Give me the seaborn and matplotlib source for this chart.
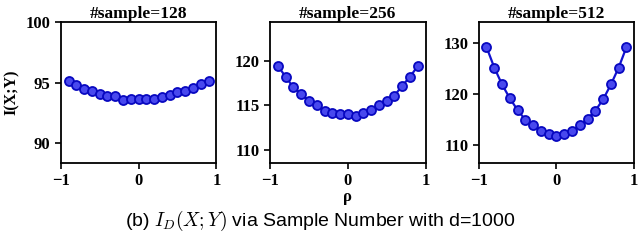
import numpy as np
import pandas as pd
import matplotlib.pyplot as plt
import seaborn as sns

# ==================== DONNÉES ====================
rho = [-0.9, -0.8, -0.7, -0.6, -0.5, -0.4, -0.3, -0.2, -0.1, 0.0,
       0.1, 0.2, 0.3, 0.4, 0.5, 0.6, 0.7, 0.8, 0.9]

mi_128 = [95.1, 94.8, 94.5, 94.3, 94.1, 93.9, 93.9, 93.6, 93.7, 93.7,
          93.7, 93.7, 93.8, 94.0, 94.2, 94.3, 94.6, 94.9, 95.1]
mi_256 = [119.4, 118.2, 117.0, 116.3, 115.5, 115.0, 114.4, 114.2, 114.1, 114.0,
          113.8, 114.2, 114.5, 115.0, 115.5, 116.1, 117.2, 118.2, 119.4]
mi_512 = [129.2, 125.2, 121.9, 119.2, 116.9, 115.0, 113.9, 112.9, 112.3, 111.9,
          112.3, 112.9, 113.9, 115.2, 116.8, 119.0, 121.9, 125.2, 129.2]

titles = ['#sample=128', '#sample=256', '#sample=512']
series = [mi_128, mi_256, mi_512]
ylims = [(88.4, 100), (108.6, 124.3), (106.6, 134.1)]
yticks = [[90, 95, 100], [110, 115, 120], [110, 120, 130]]

# ==================== FIGURE ====================
sns.set_style('ticks', {'axes.edgecolor': 'black', 'xtick.color': 'black',
                        'ytick.color': 'black', 'text.color': 'black',
                        'axes.labelcolor': 'black'})
plt.rcParams['font.family'] = ['Liberation Serif', 'DejaVu Serif']
plt.rcParams['mathtext.fontset'] = 'cm'

fig = plt.figure(figsize=(6.4, 2.41), dpi=100)
lefts = [0.095, 0.422, 0.748]
blue = '#1212d0'

for i in range(3):
    ax = fig.add_axes([lefts[i], 0.324, 0.243, 0.585])
    df = pd.DataFrame({'rho': rho, 'mi': series[i]})
    sns.lineplot(data=df, x='rho', y='mi', ax=ax, color=blue, linewidth=1.6,
                 marker='o', markersize=6.5, markerfacecolor='#4848ee',
                 markeredgecolor='#0808c0', markeredgewidth=1.3)
    ax.set_xlim(-1.0, 1.0)
    ax.set_ylim(*ylims[i])
    ax.set_xticks([-1, 0, 1])
    ax.set_xticklabels(['\u22121', '0', '1'])
    ax.set_yticks(yticks[i])
    ax.tick_params(direction='out', length=4, width=1.2, labelsize=12,
                   colors='black')
    for lab in ax.get_xticklabels() + ax.get_yticklabels():
        lab.set_fontweight('bold')
    for sp in ax.spines.values():
        sp.set_linewidth(1.3)
        sp.set_color('black')
        sp.set_visible(True)
    ax.set_title(titles[i], fontsize=12.5, fontweight='bold', pad=3,
                 color='black')
    ax.set_xlabel('')
    ax.set_ylabel('')

fig.axes[0].set_ylabel('I(X;Y)', fontsize=11.5, fontweight='bold', labelpad=4)
fig.axes[1].set_xlabel('\u03c1', fontsize=12, fontweight='bold', labelpad=0)

fig.text(0.5, 0.085, r'(b) $I_D(X;Y)$ via Sample Number with d=1000',
         ha='center', va='center', fontsize=14, family='Liberation Sans',
         color='black')

plt.savefig('out.png', dpi=100)
